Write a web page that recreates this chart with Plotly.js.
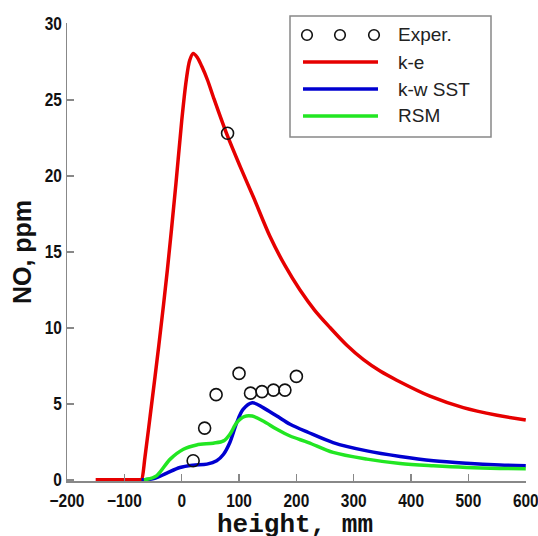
<!DOCTYPE html>
<html>
<head>
<meta charset="utf-8">
<script src="https://cdn.plot.ly/plotly-3.0.1.min.js"></script>
<style>
  html, body { margin: 0; padding: 0; background: #fff; }
  #chart { width: 538px; height: 536px; }
</style>
</head>
<body>
<div id="chart"></div>
<script>
// Measured NO concentration along the height
const experHeight = [20, 40, 60, 80, 100, 120, 140, 160, 180, 200];
const experNO     = [1.25, 3.4, 5.6, 22.8, 7.0, 5.7, 5.8, 5.9, 5.9, 6.8];

// k-e model
const keHeight = [-150, -72, -70, -64, -55, -40, -25, -10, 0, 8, 14, 20, 27, 35, 45, 55, 78, 102, 125, 154, 180, 206, 232, 259, 288, 317, 346, 375, 433, 491, 550, 600];
const keNO     = [0, 0, 0, 1.5, 4.2, 8.8, 13.8, 19.5, 23.6, 26.3, 27.6, 28.05, 27.8, 27.2, 26.3, 25.2, 22.8, 20.6, 18.6, 16.0, 14.1, 12.5, 11.15, 10.0, 8.85, 7.9, 7.15, 6.55, 5.5, 4.75, 4.25, 3.93];

// k-w SST model
const sstHeight = [-70, -66, -47, -26, -3, 20, 44, 61, 73, 84, 96, 107, 123, 142, 166, 189, 221, 264, 323, 381, 439, 497, 555, 600];
const sstNO     = [0, 0, 0.09, 0.44, 0.81, 0.96, 1.03, 1.25, 1.68, 2.45, 3.76, 4.63, 5.07, 4.75, 4.19, 3.65, 3.11, 2.45, 1.90, 1.53, 1.25, 1.09, 0.98, 0.93];

// RSM model
const rsmHeight = [-66, -62, -44, -20, 3, 26, 55, 73, 84, 96, 109, 123, 142, 166, 189, 221, 264, 323, 381, 439, 497, 555, 600];
const rsmNO     = [0, 0.02, 0.26, 1.36, 2.01, 2.29, 2.41, 2.56, 2.99, 3.76, 4.16, 4.19, 3.87, 3.32, 2.88, 2.45, 1.80, 1.36, 1.07, 0.92, 0.81, 0.75, 0.73];

// Legend entries
const legendLabels = ["Exper.", "k-e", "k-w SST", "RSM"];
const seriesColors = ["#e60000", "#0000d0", "#22e622"];

const W = 538, H = 536;
const M = { l: 67, r: 12, t: 23, b: 55 };
const pw = W - M.l - M.r, ph = H - M.t - M.b;
const px = x => (x - M.l) / pw;
const py = y => (H - M.b - y) / ph;

const tickFont = { family: "Liberation Sans, Arial, sans-serif", size: 18, weight: "bold", color: "#111" };

const lineStyle = c => ({ color: c, width: 3.5, shape: "spline", smoothing: 0.9 });
const traces = [
  { x: keHeight, y: keNO, mode: "lines", line: lineStyle(seriesColors[0]), showlegend: false },
  { x: sstHeight, y: sstNO, mode: "lines", line: lineStyle(seriesColors[1]), showlegend: false },
  { x: rsmHeight, y: rsmNO, mode: "lines", line: lineStyle(seriesColors[2]), showlegend: false },
  { x: experHeight, y: experNO, mode: "markers", cliponaxis: false,
    marker: { symbol: "circle-open", size: 12, color: "#111", line: { width: 1.6, color: "#111" } }, showlegend: false }
];

// Hand-built legend box in the upper right
const box = { x0: 290, y0: 16, x1: 491, y1: 137 };
const rowsY = [35, 62, 89, 116];
const shapes = [
  { type: "rect", xref: "paper", yref: "paper", x0: px(box.x0), x1: px(box.x1), y0: py(box.y1), y1: py(box.y0),
    line: { color: "#888", width: 1.5 }, fillcolor: "#fff", layer: "above" }
];
[307, 340, 374].forEach(cx => {
  const r = 5.3;
  shapes.push({ type: "circle", xref: "paper", yref: "paper", x0: px(cx - r), x1: px(cx + r), y0: py(rowsY[0] + r), y1: py(rowsY[0] - r),
    line: { color: "#111", width: 1.6 }, layer: "above" });
});
for (let i = 0; i < 3; i++) {
  shapes.push({ type: "line", xref: "paper", yref: "paper", x0: px(303), x1: px(378), y0: py(rowsY[i + 1]), y1: py(rowsY[i + 1]),
    line: { color: seriesColors[i], width: 3.5 }, layer: "above" });
}
const annotations = legendLabels.map((t, i) => ({
  text: t, xref: "paper", yref: "paper", x: px(396), y: py(rowsY[i]), xanchor: "left", yanchor: "middle",
  showarrow: false, font: { family: "Liberation Sans, Arial, sans-serif", size: 19, color: "#222" }
}));

// x axis caption sits low, right at the bottom edge
annotations.push({
  text: "height, mm", xref: "paper", yref: "paper", x: px(295), y: py(525), xanchor: "center", yanchor: "middle",
  showarrow: false, font: { family: "Liberation Mono, Courier New, monospace", size: 26, weight: "bold", color: "#111" }
});

const layout = {
  width: W, height: H,
  margin: M,
  paper_bgcolor: "#fff", plot_bgcolor: "#fff",
  showlegend: false,
  xaxis: {
    range: [-200, 600.4], tickvals: [-200, -100, 0, 100, 200, 300, 400, 500, 600],
    showgrid: false, zeroline: false, showline: true, linecolor: "#888", linewidth: 1.5,
    ticks: "inside", ticklen: 7, tickwidth: 1.5, tickcolor: "#888",
    ticklabeloverflow: "allow", ticklabelstandoff: 3,
    tickfont: tickFont
  },
  yaxis: {
    range: [-0.08, 30.05], tickvals: [0, 5, 10, 15, 20, 25, 30],
    showgrid: false, zeroline: false, showline: true, linecolor: "#888", linewidth: 1.5,
    ticks: "inside", ticklen: 7, tickwidth: 1.5, tickcolor: "#888",
    ticklabeloverflow: "allow",
    tickfont: tickFont,
    title: { text: "NO, ppm", standoff: 3, font: { family: "Liberation Sans, Arial, sans-serif", size: 25, weight: "bold", color: "#111" } }
  },
  shapes: shapes,
  annotations: annotations
};

Plotly.newPlot("chart", traces, layout, { staticPlot: true, displayModeBar: false }).then(() => {
  // squeeze the axis numbers into a narrow face
  document.querySelectorAll("#chart .xtick text, #chart .ytick text").forEach(t => {
    const w = t.getComputedTextLength();
    t.setAttribute("textLength", (w * 0.86).toFixed(1));
    t.setAttribute("lengthAdjust", "spacingAndGlyphs");
  });
});
</script>
</body>
</html>
